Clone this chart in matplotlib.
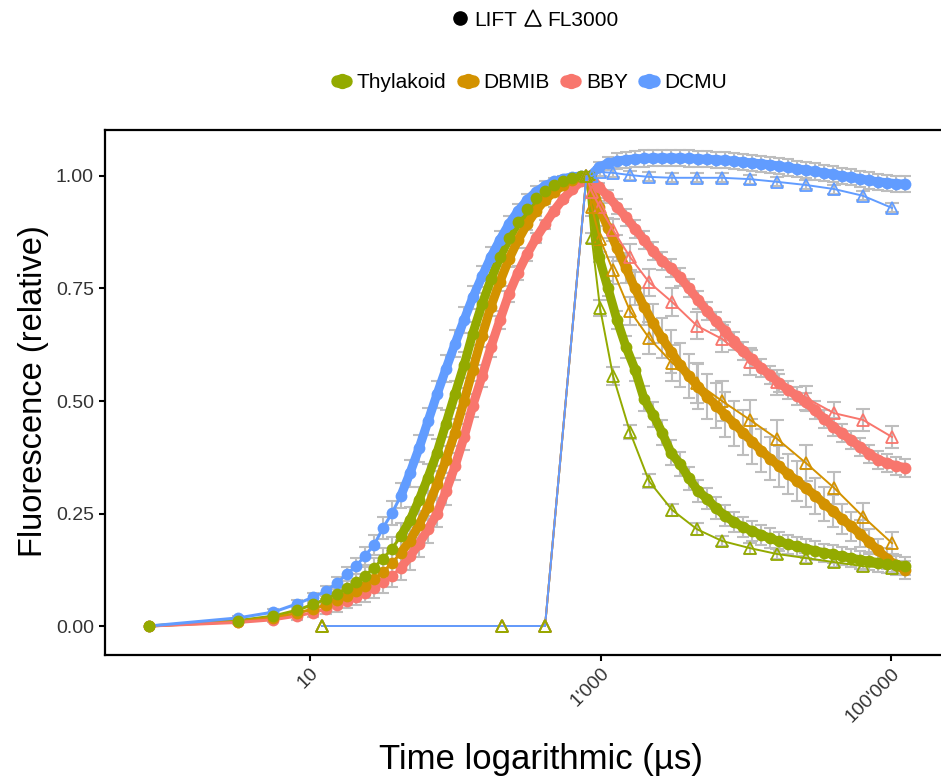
import matplotlib
matplotlib.use('Agg')
import matplotlib.pyplot as plt
from matplotlib.lines import Line2D
import numpy as np

plt.rcParams['font.family'] = ['Liberation Sans', 'DejaVu Sans']

# ---------------- data ----------------
treatments = ['Thylakoid', 'DBMIB', 'BBY', 'DCMU']
colors = ['#93AA00', '#D39200', '#F8766D', '#619CFF']

# LIFT time points (µs)
lift_time = [0.78, 3.2, 5.6, 8.1, 10.5, 12.9, 15.4, 18, 20.7, 23.9, 27.6, 31.8, 36.7,
             42.3, 48.8, 56.3, 64.9, 74.9, 86.4, 99.6, 115, 132, 153, 176, 203, 234,
             270, 312, 360, 415, 479, 552, 637, 734, 847,
             977, 1126, 1299, 1498, 1728, 1993, 2298, 2651, 3058, 3527, 4068, 4692,
             5411, 6241, 7198, 8303, 9574, 11040, 12740, 14690, 16940, 19540, 22540,
             25990, 29990, 34580, 39890, 46000, 53040, 61180, 70560, 81390, 93860,
             108250, 124860]

lift_thylakoid = [0, 0.012, 0.022, 0.035, 0.048, 0.06, 0.072, 0.084, 0.097, 0.112, 0.13,
                  0.15, 0.172, 0.20, 0.235, 0.28, 0.33, 0.385, 0.45, 0.515, 0.58, 0.65,
                  0.715, 0.77, 0.82, 0.862, 0.897, 0.926, 0.95, 0.967, 0.98, 0.989, 0.995,
                  0.999, 1.0,
                  0.82, 0.75, 0.68, 0.62, 0.57, 0.505, 0.47, 0.43, 0.385, 0.36, 0.328,
                  0.30, 0.283, 0.262, 0.245, 0.231, 0.22, 0.211, 0.203, 0.195, 0.188,
                  0.182, 0.177, 0.172, 0.167, 0.163, 0.159, 0.155, 0.151, 0.147, 0.144,
                  0.141, 0.138, 0.135, 0.133]
lift_dbmib = [0, 0.01, 0.018, 0.028, 0.038, 0.047, 0.057, 0.067, 0.078, 0.09, 0.104,
              0.12, 0.14, 0.163, 0.19, 0.225, 0.265, 0.315, 0.37, 0.43, 0.5, 0.57,
              0.645, 0.71, 0.765, 0.815, 0.857, 0.893, 0.923, 0.947, 0.965, 0.979, 0.99,
              0.997, 1.0,
              0.93, 0.885, 0.84, 0.795, 0.75, 0.71, 0.673, 0.64, 0.61, 0.58, 0.555,
              0.532, 0.51, 0.49, 0.47, 0.45, 0.43, 0.41, 0.39, 0.372, 0.355, 0.338,
              0.322, 0.306, 0.29, 0.272, 0.255, 0.238, 0.222, 0.205, 0.187, 0.168,
              0.15, 0.135, 0.124]
lift_bby = [0, 0.008, 0.014, 0.022, 0.03, 0.038, 0.046, 0.055, 0.064, 0.074, 0.085,
            0.097, 0.112, 0.13, 0.155, 0.183, 0.215, 0.25, 0.3, 0.355, 0.42, 0.49,
            0.555, 0.62, 0.68, 0.738, 0.785, 0.826, 0.862, 0.893, 0.923, 0.949, 0.97,
            0.988, 1.0,
            0.975, 0.955, 0.932, 0.908, 0.883, 0.858, 0.833, 0.812, 0.795, 0.775,
            0.75, 0.725, 0.70, 0.677, 0.655, 0.633, 0.612, 0.593, 0.574, 0.557,
            0.54, 0.525, 0.511, 0.497, 0.479, 0.461, 0.443, 0.428, 0.413, 0.398,
            0.383, 0.37, 0.362, 0.356, 0.352]
lift_dcmu = [0, 0.018, 0.031, 0.049, 0.064, 0.078, 0.096, 0.116, 0.133, 0.156, 0.18,
             0.218, 0.251, 0.29, 0.34, 0.395, 0.455, 0.515, 0.572, 0.627, 0.68, 0.73,
             0.777, 0.82, 0.858, 0.893, 0.922, 0.946, 0.965, 0.978, 0.988, 0.994, 0.998,
             1.0, 1.0,
             1.02, 1.028, 1.033, 1.036, 1.038, 1.039, 1.04, 1.04, 1.04, 1.04, 1.039,
             1.038, 1.037, 1.036, 1.035, 1.033, 1.031, 1.029, 1.027, 1.025, 1.022,
             1.019, 1.016, 1.013, 1.01, 1.007, 1.004, 1.0, 0.997, 0.994, 0.99, 0.987,
             0.985, 0.983, 0.982]

lift_err_thylakoid = [0, 0.004, 0.006, 0.008, 0.01, 0.012, 0.014, 0.016, 0.018, 0.02,
                      0.022, 0.024, 0.026, 0.028, 0.03, 0.03, 0.03, 0.03, 0.03, 0.03,
                      0.028, 0.026, 0.024, 0.022, 0.02, 0.018, 0.016, 0.014, 0.012,
                      0.01, 0.008, 0.006, 0.004, 0.002, 0,
                      0.012, 0.016, 0.02, 0.024, 0.026, 0.028, 0.028, 0.028, 0.028,
                      0.027, 0.026, 0.025, 0.024, 0.024, 0.023, 0.023, 0.022, 0.022,
                      0.022, 0.022, 0.022, 0.021, 0.021, 0.021, 0.021, 0.02, 0.02,
                      0.02, 0.02, 0.02, 0.02, 0.02, 0.02, 0.02, 0.02]
lift_err_dbmib = [0, 0.004, 0.006, 0.008, 0.01, 0.012, 0.014, 0.016, 0.018, 0.02,
                  0.022, 0.024, 0.026, 0.028, 0.03, 0.03, 0.03, 0.03, 0.03, 0.03,
                  0.028, 0.026, 0.024, 0.022, 0.02, 0.018, 0.016, 0.014, 0.012,
                  0.01, 0.008, 0.006, 0.004, 0.002, 0,
                  0.015, 0.022, 0.028, 0.033, 0.037, 0.04, 0.043, 0.045, 0.047, 0.048,
                  0.049, 0.05, 0.05, 0.05, 0.05, 0.05, 0.05, 0.049, 0.048, 0.047, 0.046,
                  0.045, 0.044, 0.042, 0.04, 0.038, 0.036, 0.034, 0.032, 0.03, 0.028,
                  0.026, 0.024, 0.022, 0.02]
lift_err_bby = [0, 0.004, 0.006, 0.008, 0.01, 0.012, 0.014, 0.016, 0.018, 0.02,
                0.022, 0.024, 0.026, 0.028, 0.03, 0.03, 0.03, 0.03, 0.03, 0.03,
                0.028, 0.026, 0.024, 0.022, 0.02, 0.018, 0.016, 0.014, 0.012,
                0.01, 0.008, 0.006, 0.004, 0.002, 0,
                0.01, 0.014, 0.017, 0.019, 0.02, 0.02, 0.02, 0.02, 0.02, 0.02, 0.02,
                0.02, 0.02, 0.02, 0.02, 0.02, 0.02, 0.02, 0.02, 0.02, 0.02, 0.02,
                0.02, 0.02, 0.02, 0.02, 0.02, 0.02, 0.02, 0.02, 0.02, 0.02, 0.02,
                0.02, 0.02]
lift_err_dcmu = [0, 0.004, 0.006, 0.008, 0.01, 0.012, 0.014, 0.016, 0.018, 0.02,
                 0.022, 0.024, 0.026, 0.028, 0.03, 0.03, 0.03, 0.03, 0.03, 0.03,
                 0.028, 0.026, 0.024, 0.022, 0.02, 0.018, 0.016, 0.014, 0.012,
                 0.01, 0.008, 0.006, 0.004, 0.002, 0,
                 0.012, 0.015, 0.017, 0.018, 0.018, 0.018, 0.018, 0.018, 0.018, 0.018,
                 0.018, 0.018, 0.018, 0.018, 0.018, 0.018, 0.018, 0.018, 0.018,
                 0.018, 0.018, 0.018, 0.018, 0.018, 0.018, 0.018, 0.018, 0.018,
                 0.018, 0.018, 0.018, 0.018, 0.018, 0.018, 0.018]

# FL3000 time points (µs)
fl_time = [12.1, 210, 415, 800, 870, 992, 1219, 1596, 2158, 3107, 4617, 6863, 10700,
           16420, 25990, 40520, 64160, 101600]
fl_thylakoid = [0, 0, 0, 1.0, 0.862, 0.707, 0.556, 0.431, 0.322, 0.258, 0.215, 0.189,
                0.173, 0.16, 0.151, 0.142, 0.133, 0.129]
fl_dbmib = [0, 0, 0, 1.0, 0.93, 0.86, 0.79, 0.70, 0.64, 0.585, 0.54, 0.50, 0.458,
            0.416, 0.362, 0.307, 0.243, 0.184]
fl_bby = [0, 0, 0, 1.0, 0.965, 0.93, 0.88, 0.82, 0.764, 0.72, 0.667, 0.638, 0.587,
          0.542, 0.507, 0.473, 0.458, 0.42]
fl_dcmu = [0, 0, 0, 1.0, 1.0, 1.009, 1.007, 1.002, 0.998, 0.996, 0.996, 0.996, 0.993,
           0.987, 0.98, 0.971, 0.956, 0.929]
fl_err_thylakoid = [0, 0, 0, 0, 0.012, 0.018, 0.02, 0.016, 0.015, 0.014, 0.013, 0.012,
                    0.012, 0.012, 0.011, 0.011, 0.01, 0.01]
fl_err_dbmib = [0, 0, 0, 0, 0.02, 0.028, 0.03, 0.032, 0.035, 0.04, 0.045, 0.045, 0.045,
                0.042, 0.04, 0.035, 0.03, 0.025]
fl_err_bby = [0, 0, 0, 0, 0.015, 0.02, 0.025, 0.028, 0.03, 0.03, 0.03, 0.03, 0.03,
              0.028, 0.027, 0.025, 0.025, 0.025]
fl_err_dcmu = [0, 0, 0, 0, 0.008, 0.01, 0.01, 0.01, 0.01, 0.01, 0.01, 0.01, 0.01,
               0.01, 0.01, 0.01, 0.01, 0.01]

lift_y = [lift_thylakoid, lift_dbmib, lift_bby, lift_dcmu]
lift_e = [lift_err_thylakoid, lift_err_dbmib, lift_err_bby, lift_err_dcmu]
fl_y = [fl_thylakoid, fl_dbmib, fl_bby, fl_dcmu]
fl_e = [fl_err_thylakoid, fl_err_dbmib, fl_err_bby, fl_err_dcmu]

x_ticks = [10, 1000, 100000]
x_ticklabels = ["10", "1'000", "100'000"]
y_ticks = [0.0, 0.25, 0.5, 0.75, 1.0]
y_ticklabels = ["0.00", "0.25", "0.50", "0.75", "1.00"]

# ---------------- figure ----------------
W, H = 941, 778
fig = plt.figure(figsize=(W / 100, H / 100), dpi=100)
ax_l, ax_r, ax_t, ax_b = 105, 950, 130, 655
ax = fig.add_axes([ax_l / W, 1 - ax_b / H, (ax_r - ax_l) / W, (ax_b - ax_t) / H])
ax.set_xscale('log')
ax.set_xlim(0.388, 254600)
ax.set_ylim(-0.0644, 1.1022)

grey = '#BEBEBE'
line_order = [0, 1, 2, 3]    # lines: DCMU on top
point_order = [3, 2, 1, 0]   # points: Thylakoid on top
dense_from = 13              # LIFT samples become a continuous band from here on

# error bars
for i in line_order:
    t = np.array(lift_time); y = np.array(lift_y[i]); e = np.array(lift_e[i])
    m = e > 0
    ax.errorbar(t[m], y[m], yerr=e[m], fmt='none', ecolor=grey, elinewidth=1.5,
                capsize=4.5, capthick=1.5, zorder=1)
for i in line_order:
    t = np.array(fl_time); y = np.array(fl_y[i]); e = np.array(fl_e[i])
    m = e > 0
    ax.errorbar(t[m], y[m], yerr=e[m], fmt='none', ecolor=grey, elinewidth=1.5,
                capsize=5, capthick=1.5, zorder=1.5)

# LIFT lines + points
for i in line_order:
    ax.plot(lift_time, lift_y[i], color=colors[i], lw=2.2, zorder=2)
    ax.plot(lift_time[dense_from:], lift_y[i][dense_from:], color=colors[i], lw=6.5,
            solid_capstyle='round', solid_joinstyle='round', zorder=2)
for i in point_order:
    ax.plot(lift_time, lift_y[i], 'o', color=colors[i], ms=8.5, mew=0, zorder=3)
# FL3000 lines + triangles
for i in line_order:
    ax.plot(fl_time, fl_y[i], color=colors[i], lw=1.4, zorder=4)
for i in point_order:
    ax.plot(fl_time, fl_y[i], '^', mfc='none', mec=colors[i], ms=9, mew=1.3, zorder=5)

# axes style
for s in ['left', 'bottom', 'top']:
    ax.spines[s].set_linewidth(1.6)
    ax.spines[s].set_color('black')
ax.spines['right'].set_visible(False)
ax.set_xticks(x_ticks)
ax.set_xticklabels(x_ticklabels, rotation=45, ha='right', va='top',
                   rotation_mode='anchor')
ax.xaxis.set_minor_locator(matplotlib.ticker.NullLocator())
ax.set_yticks(y_ticks)
ax.set_yticklabels(y_ticklabels)
ax.tick_params(axis='both', length=4, width=1.5, color='black', labelsize=14,
               labelcolor='#333333', pad=3)
ax.tick_params(axis='y', pad=4)

ax.set_xlabel('Time logarithmic (µs)', fontsize=25)
ax.xaxis.set_label_coords((541 - ax_l) / (ax_r - ax_l), (ax_b - 743) / (ax_b - ax_t))
ax.set_ylabel('Fluorescence (relative)', fontsize=23.5)
ax.yaxis.set_label_coords((49 - ax_l) / (ax_r - ax_l), (ax_b - 391) / (ax_b - ax_t))

# legends
h1 = [Line2D([], [], marker='o', color='black', ls='', ms=9.5),
      Line2D([], [], marker='^', mfc='none', mec='black', ls='', ms=12, mew=1.2)]
leg1 = fig.legend(h1, ['LIFT', 'FL3000'], loc='center', bbox_to_anchor=(534 / W, 1 - 20 / H),
                  ncol=2, frameon=False, handletextpad=0.15, columnspacing=0.3,
                  handlelength=1.0, fontsize=15)
h2 = [Line2D([], [], color=c, lw=9, marker='o', ms=10, solid_capstyle='round')
      for c in colors]
leg2 = fig.legend(h2, treatments, loc='center', bbox_to_anchor=(532 / W, 1 - 83 / H),
                  ncol=4, frameon=False, handletextpad=0.5, columnspacing=0.8,
                  handlelength=0.45, fontsize=15)

fig.savefig('out.png', dpi=100)
